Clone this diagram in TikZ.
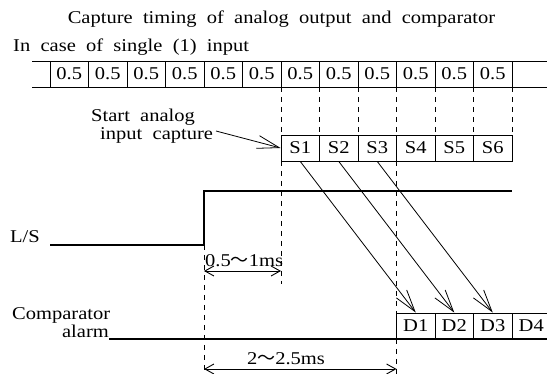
\documentclass[tikz,border=0pt]{standalone}
\usepackage{fontspec}
\newfontfamily\mincho{Liberation Serif}[FakeStretch=1.14, WordSpace=2]
\newfontfamily\cjk{Noto Sans CJK JP}
\usetikzlibrary{arrows.meta}
\newcommand{\wave}{{\cjk\fontsize{18}{20}\selectfont ～}}
\begin{document}
\begin{tikzpicture}[x=1pt,y=-1pt,
  txt/.style={font=\mincho\fontsize{18}{22}\selectfont, inner sep=0pt},
  cell/.style={txt, draw, line width=0.9pt, minimum width=38.5pt, minimum height=26pt},
  thinline/.style={line width=0.9pt},
  sig/.style={line width=1.3pt},
  dsh/.style={line width=0.9pt, dash pattern=on 5pt off 5pt},
  bigarrow/.style={line width=0.8pt, -{Straight Barb[length=22pt,width=13pt]}},
  dimarrow/.style={line width=0.9pt, {Straight Barb[length=9pt,width=10pt]}-{Straight Barb[length=9pt,width=10pt]}},
]
\useasboundingbox (0,0) rectangle (547,374);

% titles
\node[txt, anchor=base] (title) at (281.5,23.5) {Capture timing of analog output and comparator};
\node[txt, anchor=base west] (sub) at (13,52) {In case of single (1) input};

% 0.5 row
\draw[thinline] (32,61) -- (547,61);
\draw[thinline] (32,87) -- (547,87);
\foreach \k in {0,...,11} {
  \node[cell] (c\k) at ({50+38.5*\k+19.25},74) {0.5};
}

% dashed guides under the row
\foreach \xx in {281,319.5,358,396.5,435,473.5,512} {
  \draw[dsh] (\xx,87) -- (\xx,135);
}
\draw[dsh] (281,161) -- (281,284);
\draw[dsh] (396.5,161) -- (396.5,313);
\draw[dsh] (396.5,339) -- (396.5,374);
\draw[dsh] (204,245) -- (204,374);

% S cells
\foreach \k in {1,...,6} {
  \node[cell] (s\k) at ({281+38.5*(\k-1)+19.25},148) {S\k};
}

% start analog input capture
\node[txt, anchor=base west] (sa1) at (91,121.5) {Start analog};
\node[txt, anchor=base west] (sa2) at (100,139.5) {input capture};
\coordinate (sastart) at (216,131);
\draw[bigarrow] (sastart) -- (s1.west);

% L/S signal
\node[txt, anchor=base west] (ls) at (10,243) {L/S};
\draw[sig] (50,245) -- (204,245) -- (204,191) -- (512,191);

% comparator alarm
\node[txt, anchor=base west] (cmp1) at (12,319.5) {Comparator};
\node[txt, anchor=base east] (cmp2) at (109,338) {alarm};
\draw[sig] (109,339) -- (547,339);

% D cells
\foreach \k in {1,...,4} {
  \node[cell] (d\k) at ({396.5+38.5*(\k-1)+19.25},326) {D\k};
}

% S -> D arrows
\foreach \k in {1,2,3} {
  \draw[bigarrow] (s\k.south) -- (d\k.north);
}

% dimensions
\coordinate (da1) at (204,271);
\coordinate (da2) at (281,271);
\draw[dimarrow] (da1) -- (da2);
\node[txt, anchor=base west] (dl1) at (205,267) {0.5\wave 1ms};

\coordinate (db1) at (204,369);
\coordinate (db2) at (396.5,369);
\draw[dimarrow] (db1) -- (db2);
\node[txt, anchor=base] (dl2) at (286,365) {2\wave 2.5ms};
\end{tikzpicture}
\end{document}
